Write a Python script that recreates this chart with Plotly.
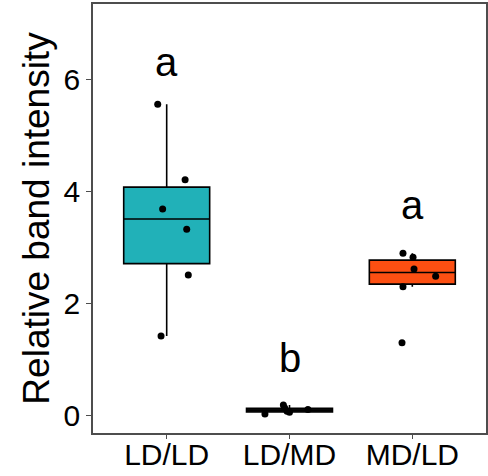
import numpy as np
import plotly.graph_objects as go

categories = ["LD/LD", "LD/MD", "MD/LD"]
values_ldld = [5.55, 4.20, 3.68, 3.32, 2.50, 1.41]
values_ldmd = [0.02, 0.05, 0.07, 0.10, 0.13, 0.18]
values_mdld = [2.89, 2.82, 2.61, 2.48, 2.29, 1.29]
jitter_ldld = [-0.073, 0.150, -0.033, 0.163, 0.176, -0.046]
jitter_ldmd = [-0.20, 0.00, -0.02, 0.15, -0.04, -0.05]
jitter_mdld = [-0.076, 0.006, 0.014, 0.190, -0.076, -0.084]
letters = ["a", "b", "a"]
letter_y = [6.3, 1.02, 3.75]
fill_colors = ["#21B1B8", "#111111", "#FC4F12"]
tick_vals_y = [0, 2, 4, 6]

groups = [values_ldld, values_ldmd, values_mdld]
jitters = [jitter_ldld, jitter_ldmd, jitter_mdld]

FONT = "Liberation Sans, Arial, Helvetica, sans-serif"


def box_stats(vals):
    v = np.sort(np.asarray(vals, dtype=float))
    q1, med, q3 = np.percentile(v, [25, 50, 75])
    iqr = q3 - q1
    lo = v[v >= q1 - 1.5 * iqr].min()
    hi = v[v <= q3 + 1.5 * iqr].max()
    return float(q1), float(med), float(q3), float(min(lo, q1)), float(max(hi, q3))


fig = go.Figure()
for i, (vals, col) in enumerate(zip(groups, fill_colors)):
    q1, med, q3, lf, uf = box_stats(vals)
    fig.add_trace(go.Box(
        x=[i + 1], q1=[q1], median=[med], q3=[q3],
        lowerfence=[lf], upperfence=[uf],
        boxpoints=False,
        fillcolor=col,
        line=dict(color="black", width=1.6),
        width=0.7,
        whiskerwidth=0,
        showlegend=False,
        hoverinfo="skip",
    ))

for i, (vals, jit) in enumerate(zip(groups, jitters)):
    fig.add_trace(go.Scatter(
        x=[i + 1 + j for j in jit], y=vals,
        mode="markers",
        marker=dict(color="black", size=7),
        showlegend=False,
    ))

for i, (lab, ly) in enumerate(zip(letters, letter_y)):
    fig.add_annotation(x=i + 1, y=ly, text=lab, showarrow=False,
                       font=dict(family=FONT, size=40, color="black"),
                       xref="x", yref="y")

fig.update_layout(
    width=488, height=476,
    margin=dict(l=93, r=2, t=4, b=43),
    paper_bgcolor="white", plot_bgcolor="white",
    font=dict(family=FONT, color="black"),
    showlegend=False,
)
fig.update_xaxes(
    range=[0.4, 3.6], tickvals=[1, 2, 3], ticktext=categories,
    showgrid=False, zeroline=False, automargin=False,
    showline=True, mirror=True, linecolor="#4d4d4d", linewidth=1.5,
    ticks="outside", ticklen=4, tickcolor="#4d4d4d", tickwidth=1.2,
    tickfont=dict(family=FONT, size=30, color="black"),
    ticklabelstandoff=-10,
)
fig.update_yaxes(
    range=[-0.32, 7.34], tickvals=tick_vals_y,
    showgrid=False, zeroline=False, automargin=False,
    showline=True, mirror=True, linecolor="#4d4d4d", linewidth=1.5,
    ticks="outside", ticklen=5, tickcolor="#4d4d4d", tickwidth=1.2,
    tickfont=dict(family=FONT, size=30, color="black"),
    title=dict(text="Relative band intensity", font=dict(family=FONT, size=37, color="black"), standoff=3),
)
fig.write_html("out.html", config={"displayModeBar": False},
               post_script="document.body.style.margin='0';document.body.style.overflow='hidden';")
